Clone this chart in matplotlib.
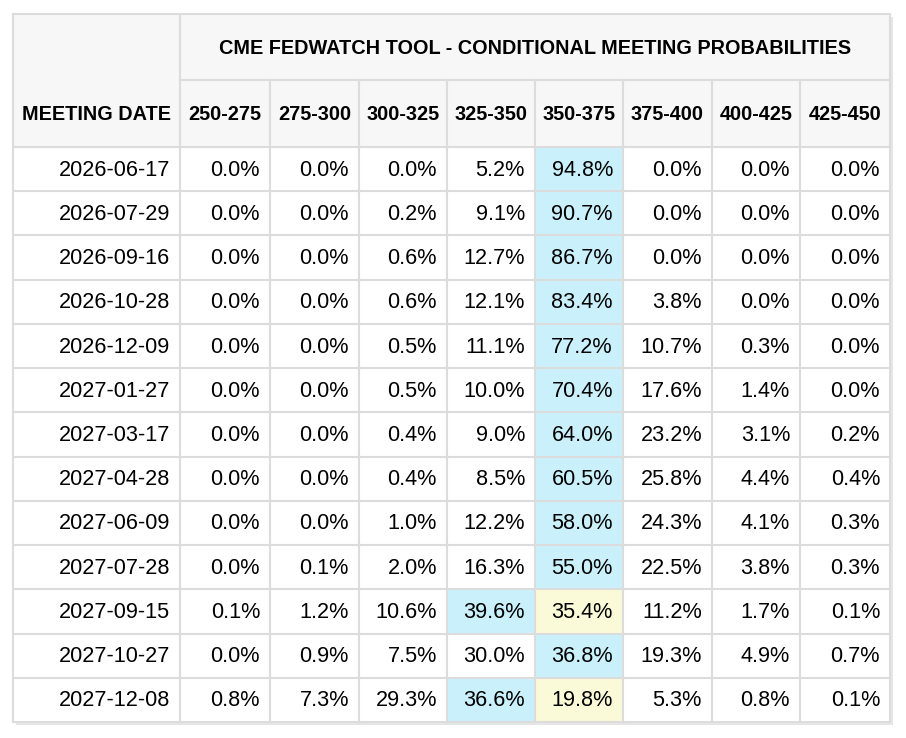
import matplotlib
matplotlib.use("Agg")
import matplotlib.pyplot as plt
from matplotlib.patches import Rectangle

TITLE = "CME FEDWATCH TOOL - CONDITIONAL MEETING PROBABILITIES"
FIRST_HEADER = "MEETING DATE"
RANGES = ["250-275", "275-300", "300-325", "325-350", "350-375", "375-400", "400-425", "425-450"]
DATES = ["2026-06-17", "2026-07-29", "2026-09-16", "2026-10-28", "2026-12-09", "2027-01-27",
         "2027-03-17", "2027-04-28", "2027-06-09", "2027-07-28", "2027-09-15", "2027-10-27",
         "2027-12-08"]
PROBS = [
    [0.0, 0.0, 0.0, 5.2, 94.8, 0.0, 0.0, 0.0],
    [0.0, 0.0, 0.2, 9.1, 90.7, 0.0, 0.0, 0.0],
    [0.0, 0.0, 0.6, 12.7, 86.7, 0.0, 0.0, 0.0],
    [0.0, 0.0, 0.6, 12.1, 83.4, 3.8, 0.0, 0.0],
    [0.0, 0.0, 0.5, 11.1, 77.2, 10.7, 0.3, 0.0],
    [0.0, 0.0, 0.5, 10.0, 70.4, 17.6, 1.4, 0.0],
    [0.0, 0.0, 0.4, 9.0, 64.0, 23.2, 3.1, 0.2],
    [0.0, 0.0, 0.4, 8.5, 60.5, 25.8, 4.4, 0.4],
    [0.0, 0.0, 1.0, 12.2, 58.0, 24.3, 4.1, 0.3],
    [0.0, 0.1, 2.0, 16.3, 55.0, 22.5, 3.8, 0.3],
    [0.1, 1.2, 10.6, 39.6, 35.4, 11.2, 1.7, 0.1],
    [0.0, 0.9, 7.5, 30.0, 36.8, 19.3, 4.9, 0.7],
    [0.8, 7.3, 29.3, 36.6, 19.8, 5.3, 0.8, 0.1],
]
CURRENT = "350-375"

BLUE = "#caf1fb"
YELLOW = "#fafad8"
HEAD_BG = "#f7f7f7"
GRID = "#dcdcdc"

plt.rcParams["font.family"] = ["Liberation Sans", "DejaVu Sans"]

fig = plt.figure(figsize=(9.06, 7.38), dpi=100)
ax = fig.add_axes([0, 0, 1, 1])
ax.set_xlim(0, 906)
ax.set_ylim(738, 0)
ax.axis("off")

col_edges = [13, 180, 270, 359, 447, 535, 623, 712, 800, 890]
top, h1, h2, bottom = 14, 80, 147, 722
row_h = (bottom - h2) / len(DATES)
DATA_FS = 15.6
HEAD_FS = 14.3

# shadow
ax.add_patch(Rectangle((col_edges[0] + 3, top + 3), col_edges[-1] - col_edges[0], bottom - top,
                       facecolor="#e6e6e6", edgecolor="none"))
# header background
ax.add_patch(Rectangle((col_edges[0], top), col_edges[-1] - col_edges[0], h2 - top,
                       facecolor=HEAD_BG, edgecolor="none"))
ax.add_patch(Rectangle((col_edges[0], h2), col_edges[-1] - col_edges[0], bottom - h2,
                       facecolor="white", edgecolor="none"))

cur = RANGES.index(CURRENT)
for i, row in enumerate(PROBS):
    y0 = h2 + i * row_h
    best = max(range(len(row)), key=lambda k: row[k])
    for j, v in enumerate(row):
        x0, x1 = col_edges[j + 1], col_edges[j + 2]
        color = None
        if j == best:
            color = BLUE
        elif j == cur:
            color = YELLOW
        if color:
            ax.add_patch(Rectangle((x0, y0), x1 - x0, row_h, facecolor=color, edgecolor="none"))
        ax.text(x1 - 10, y0 + row_h / 2 + 1, f"{v:.1f}%", ha="right", va="center", fontsize=DATA_FS)
    ax.text(col_edges[1] - 10, y0 + row_h / 2 + 1, DATES[i], ha="right", va="center", fontsize=DATA_FS)

# headers
ax.text((col_edges[1] + col_edges[-1]) / 2, (top + h1) / 2 + 1, TITLE, ha="center", va="center",
        fontsize=HEAD_FS, fontweight="bold")
ax.text((col_edges[0] + col_edges[1]) / 2, (h1 + h2) / 2 + 1, FIRST_HEADER, ha="center", va="center",
        fontsize=HEAD_FS, fontweight="bold")
for j, r in enumerate(RANGES):
    ax.text((col_edges[j + 1] + col_edges[j + 2]) / 2, (h1 + h2) / 2 + 1, r, ha="center", va="center",
            fontsize=HEAD_FS, fontweight="bold")

# grid lines
lw = 1.5
ax.plot([col_edges[0], col_edges[-1]], [top, top], color=GRID, lw=lw)
ax.plot([col_edges[1], col_edges[-1]], [h1, h1], color=GRID, lw=lw)
for k in range(len(DATES) + 1):
    y = h2 + k * row_h
    ax.plot([col_edges[0], col_edges[-1]], [y, y], color=GRID, lw=lw)
ax.plot([col_edges[0]] * 2, [top, bottom], color=GRID, lw=lw)
ax.plot([col_edges[1]] * 2, [top, bottom], color=GRID, lw=lw)
for x in col_edges[2:-1]:
    ax.plot([x, x], [h1, bottom], color=GRID, lw=lw)
ax.plot([col_edges[-1]] * 2, [top, bottom], color=GRID, lw=lw)

fig.savefig("out.png", dpi=100)
